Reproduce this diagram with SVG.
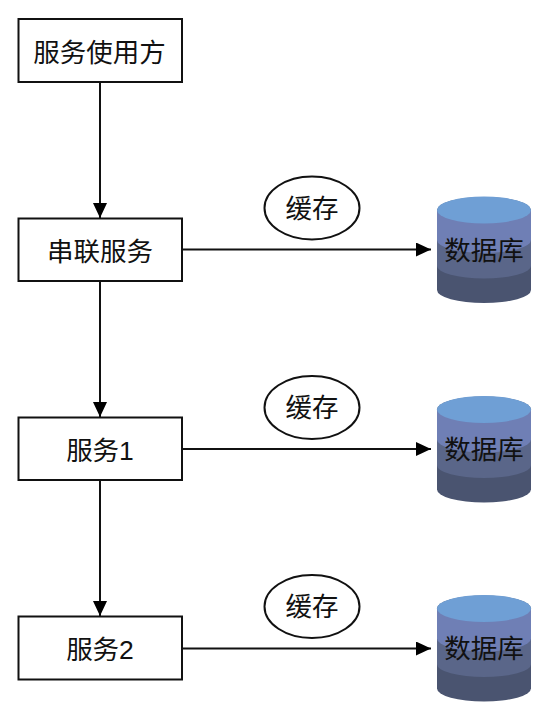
<svg xmlns="http://www.w3.org/2000/svg" width="553" height="722" viewBox="0 0 553 722">
<style>
text{font-family:"Liberation Sans","Noto Sans CJK SC",sans-serif;font-size:26.500px;fill:#111;text-anchor:middle}
.box{fill:#fff;stroke:#111;stroke-width:2}
.line{fill:none;stroke:#111;stroke-width:2}
</style>
<defs>
<marker id="arrow" markerUnits="userSpaceOnUse" markerWidth="16" markerHeight="14" refX="15" refY="7" orient="auto"><path d="M0 0L15 7L0 14Z" fill="#000"/></marker>
<g id="db">
<path d="M437 277V210A47 13 0 0 1 531 210V290A47 13 0 0 1 437 290Z" fill="#4a5470"/>
<path d="M437 266V210H531V266A47 12.500 0 0 1 437 266Z" fill="#5a6689"/>
<path d="M437 240V210H531V240A47 13 0 0 1 437 240Z" fill="#6f7fb5"/>
<ellipse cx="484" cy="210" rx="47" ry="13.500" fill="#6f9fd5"/>
</g>
</defs>
<rect width="553" height="722" fill="#fff"/>
<g id="connectors">
<path class="line" marker-end="url(#arrow)" d="M100 82V218"/>
<path class="line" marker-end="url(#arrow)" d="M100 281V417"/>
<path class="line" marker-end="url(#arrow)" d="M100 480V616"/>
<path class="line" marker-end="url(#arrow)" d="M182 249.500H431"/>
<path class="line" marker-end="url(#arrow)" d="M182 449H431"/>
<path class="line" marker-end="url(#arrow)" d="M182 648.500H431"/>
</g>
<g id="n1"><rect class="box" x="18.500" y="19" width="163.500" height="63"/><text x="99.500" y="61.500">服务使用方</text></g>
<g id="n2"><rect class="box" x="18.500" y="218.500" width="163.500" height="62.500"/><text x="100" y="260.500">串联服务</text></g>
<g id="n3"><rect class="box" x="18.500" y="417.500" width="163.500" height="62.500"/><text x="100" y="459.500">服务1</text></g>
<g id="n4"><rect class="box" x="18.500" y="616.500" width="163.500" height="63"/><text x="100" y="658.500">服务2</text></g>
<g id="c1"><ellipse class="box" cx="312" cy="208" rx="47.500" ry="31.500"/><text x="312" y="218">缓存</text></g>
<g id="c2"><ellipse class="box" cx="312" cy="407.500" rx="47.500" ry="31.500"/><text x="312" y="417">缓存</text></g>
<g id="c3"><ellipse class="box" cx="312" cy="606.500" rx="47.500" ry="31.500"/><text x="312" y="616">缓存</text></g>
<g id="d1"><use href="#db"/><text x="484" y="260">数据库</text></g>
<g id="d2"><use href="#db" y="199.500"/><text x="484" y="459">数据库</text></g>
<g id="d3"><use href="#db" y="398.500"/><text x="484" y="658">数据库</text></g>
</svg>
